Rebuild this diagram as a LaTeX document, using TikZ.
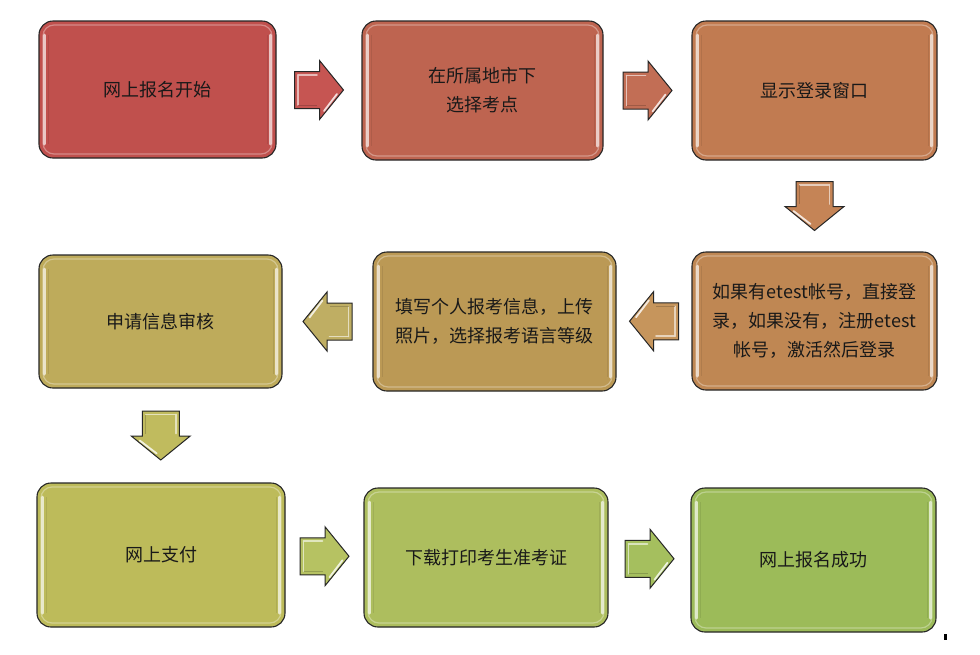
\documentclass[tikz,border=0pt]{standalone}
\usepackage{fontspec}
\setmainfont{Noto Sans CJK SC}
\usetikzlibrary{calc}
\definecolor{cA}{HTML}{C0504D}
\definecolor{cB}{HTML}{BE6450}
\definecolor{cC}{HTML}{C17B51}
\definecolor{cD}{HTML}{BF8753}
\definecolor{cE}{HTML}{BB9955}
\definecolor{cF}{HTML}{BEAB5B}
\definecolor{cG}{HTML}{BDBB5A}
\definecolor{cH}{HTML}{ADBE5E}
\definecolor{cI}{HTML}{9CBB59}
\definecolor{aA}{HTML}{C65552}
\definecolor{aB}{HTML}{C26E55}
\definecolor{aC}{HTML}{C58456}
\definecolor{aD}{HTML}{C6955C}
\definecolor{aE}{HTML}{BFAE63}
\definecolor{aF}{HTML}{C0BB5E}
\definecolor{aG}{HTML}{B6C262}
\definecolor{aH}{HTML}{A5BF5E}
\tikzset{
  flowbox/.style={draw=black!85, line width=1.1pt, rounded corners=14pt,
    fill=#1, inner sep=4pt, align=center, text=black!90,
    font=\fontsize{18}{29}\selectfont,
    path picture={
      \draw[#1!45!white, line width=1.2pt, opacity=0.6, rounded corners=11pt]
        ([xshift=4pt,yshift=-4pt]path picture bounding box.north west)
        rectangle ([xshift=-4pt,yshift=4pt]path picture bounding box.south east);
      \draw[#1!25!white, line width=3pt, opacity=0.9, line cap=round]
        ([xshift=5.5pt,yshift=-14pt]path picture bounding box.north west)
        -- ([xshift=5.5pt,yshift=14pt]path picture bounding box.south west);
      \draw[#1!25!white, line width=3pt, opacity=0.9, line cap=round]
        ([xshift=-5.5pt,yshift=-14pt]path picture bounding box.north east)
        -- ([xshift=-5.5pt,yshift=14pt]path picture bounding box.south east);
      \draw[#1!80!black, line width=1pt, opacity=0.4]
        ([xshift=9pt,yshift=-14pt]path picture bounding box.north west)
        -- ([xshift=9pt,yshift=14pt]path picture bounding box.south west);
      \draw[#1!80!black, line width=1pt, opacity=0.4]
        ([xshift=-9pt,yshift=-14pt]path picture bounding box.north east)
        -- ([xshift=-9pt,yshift=14pt]path picture bounding box.south east);
    }},
  pics/blockarrow/.style={code={
    \draw[fill=#1, draw=black!85, line width=1pt, line join=miter]
      (-24.5,-18.5) -- (0.5,-18.5) -- (0.5,-29.5) -- (24.5,0) -- (0.5,29.5)
      -- (0.5,18.5) -- (-24.5,18.5) -- cycle;
    \draw[#1!35!white, line width=1.6pt, opacity=0.9, line cap=round]
      (-21,-15) -- (-2,-15);
    \draw[#1!35!white, line width=1.6pt, opacity=0.9, line cap=round]
      (-21,-15) -- (-21,15);
    \draw[white, line width=1.8pt, opacity=0.8, line cap=round]
      (5,21) -- (18,4);
    \draw[#1!70!black, line width=1pt, opacity=0.6]
      (-21,15) -- (-2,15);
  }}
}
\begin{document}
\begin{tikzpicture}[x=1pt,y=-1pt]
\useasboundingbox (0,0) rectangle (980,654);
\fill[white] (0,0) rectangle (980,654);

% boxes
\node[flowbox=cA, minimum width=237pt, minimum height=137pt] (b1) at (157.5,89.5) {网上报名开始};
\node[flowbox=cB, minimum width=241pt, minimum height=139pt] (b2) at (482.5,90.5) {在所属地市下\\选择考点};
\node[flowbox=cC, minimum width=245pt, minimum height=139pt] (b3) at (814.5,90.5) {显示登录窗口};
\node[flowbox=cD, minimum width=245pt, minimum height=138pt] (b6) at (814.5,321) {如果有etest帐号，直接登\\录，如果没有，注册etest\\帐号，激活然后登录};
\node[flowbox=cE, minimum width=243pt, minimum height=139pt] (b5) at (494.5,321.5) {填写个人报考信息，上传\\照片，选择报考语言等级};
\node[flowbox=cF, minimum width=243pt, minimum height=133pt] (b4) at (160.5,321.5) {申请信息审核};
\node[flowbox=cG, minimum width=248pt, minimum height=144pt] (b7) at (161,555) {网上支付};
\node[flowbox=cH, minimum width=244pt, minimum height=139pt] (b8) at (486,557.5) {下载打印考生准考证};
\node[flowbox=cI, minimum width=245pt, minimum height=144pt] (b9) at (813.5,560) {网上报名成功};

% block arrows between boxes
\pic at ($(b1.east)!0.5!(b2.west)$) {blockarrow=aA};
\pic at ($(b2.east)!0.5!(b3.west)$) {blockarrow=aB};
\pic[rotate=-90] at ($(b3.south)!0.5!(b6.north)$) {blockarrow=aC};
\pic[rotate=180] at ($(b6.west)!0.5!(b5.east)$) {blockarrow=aD};
\pic[rotate=180] at ($(b5.west)!0.5!(b4.east)$) {blockarrow=aE};
\pic[rotate=-90] at ($(b4.south)!0.5!(b7.north)$) {blockarrow=aF};
\pic at ($(b7.east)!0.5!(b8.west)$) {blockarrow=aG};
\pic at ($(b8.east)!0.5!(b9.west)$) {blockarrow=aH};

% small mark at bottom right
\fill[black] (944,634) rectangle (946.5,640);
\end{tikzpicture}
\end{document}
